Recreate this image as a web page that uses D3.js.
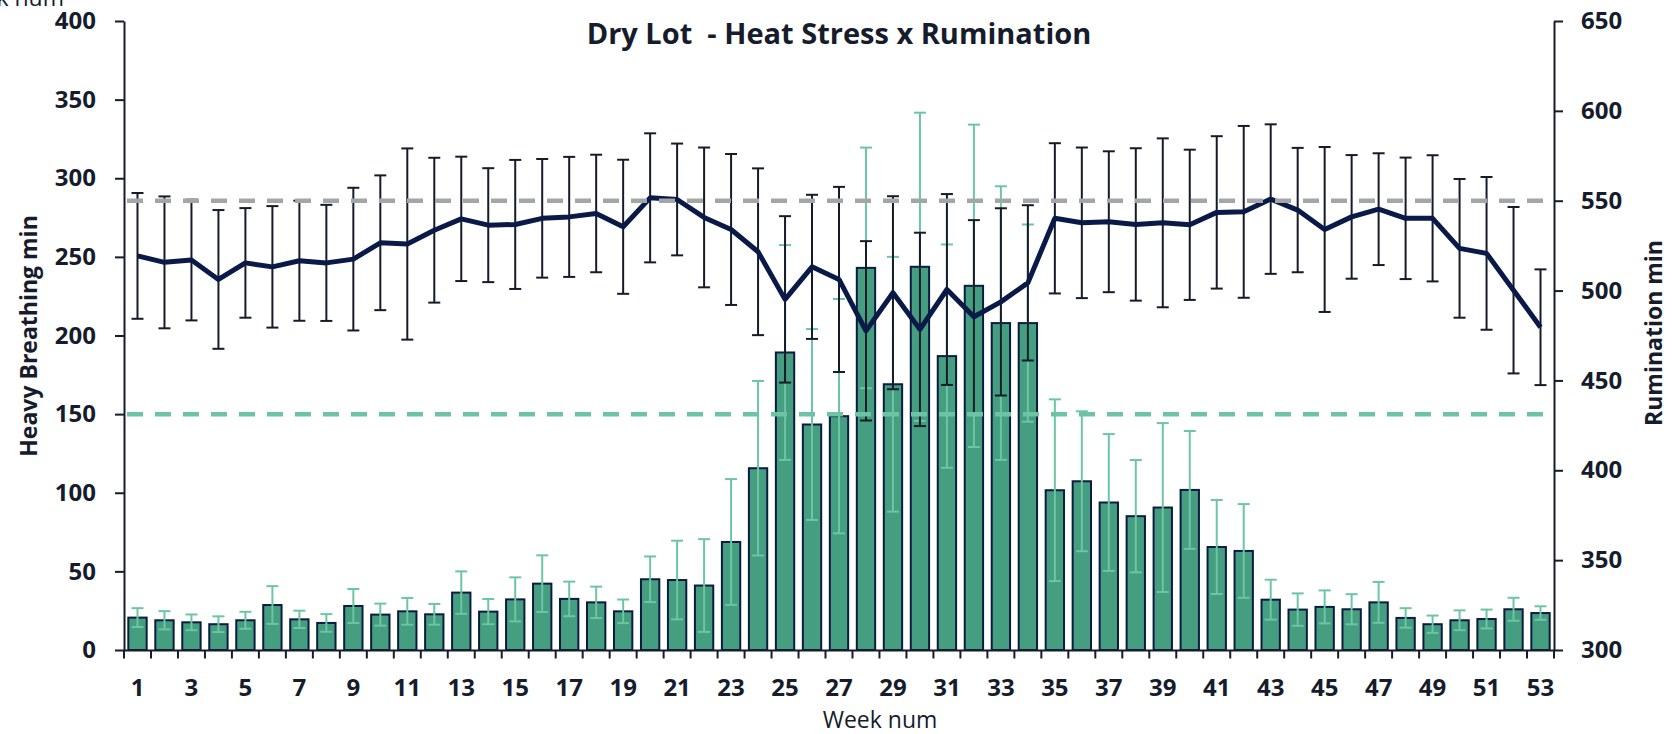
<!DOCTYPE html>
<html>
<head>
<meta charset="utf-8">
<script src="https://cdn.jsdelivr.net/npm/d3@7"></script>
<style>
  body { margin: 0; background: #fff; }
  text { font-family: "Open Sans", Lato, sans-serif; fill: #161c2c; }
</style>
</head>
<body>
<script>
// chart data
var weeks = [1,2,3,4,5,6,7,8,9,10,11,12,13,14,15,16,17,18,19,20,21,22,23,24,25,26,27,
  28,29,30,31,32,33,34,35,36,37,38,39,40,41,42,43,44,45,46,47,48,49,50,51,52,53];
var weekLabels = [1,3,5,7,9,11,13,15,17,19,21,23,25,27,29,31,33,35,37,39,41,43,45,47,49,51,53];

var heavyBreathing = [20.6,18.9,17.6,16.4,18.9,28.6,19.5,17.2,28.0,22.5,
  24.6,22.7,36.5,24.4,32.2,42.2,32.5,30.3,24.6,45.0,
  44.5,41.0,68.7,115.6,189.2,143.4,148.7,243.0,169.0,243.7,
  186.9,231.6,207.9,207.9,101.6,107.3,93.8,85.1,90.6,101.8,
  65.5,63.0,32.0,25.7,27.4,25.9,30.3,20.4,16.4,18.9,
  19.7,25.9,23.5];
var heavyBreathingSd = [6.0,5.8,5.0,5.0,5.4,12.0,5.5,5.6,10.8,7.0,
  8.5,6.6,13.5,8.0,14.0,18.0,11.0,10.0,7.5,14.5,
  25.0,29.5,40.0,55.5,68.3,60.7,74.5,76.5,81.0,98.0,
  71.0,102.5,87.0,62.7,57.8,44.5,43.5,35.7,53.7,37.5,
  29.9,29.8,12.7,10.3,10.5,9.6,13.0,6.2,5.5,6.3,
  6.0,7.3,4.3];

var rumination = [519.3,515.7,517.0,506.2,515.4,513.2,516.6,515.4,517.5,526.6,
  525.9,533.6,539.9,536.4,536.8,540.2,541.0,542.9,535.5,551.6,
  550.7,540.7,534.0,521.6,495.1,513.2,506.2,477.6,498.8,478.4,
  500.6,485.4,493.7,504.3,540.2,537.7,538.3,536.8,537.7,536.6,
  543.5,543.8,550.9,544.8,534.0,541.0,545.3,540.2,540.2,523.5,
  520.7,500.2,479.6];
var ruminationSd = [35.0,36.7,33.6,38.6,30.5,33.8,33.4,32.3,39.7,37.5,
  53.2,40.3,34.6,31.7,35.9,33.0,33.4,32.7,37.3,35.9,
  31.1,38.9,42.0,46.4,46.3,40.1,51.5,49.9,53.7,53.8,
  53.1,53.8,52.1,43.2,41.8,41.9,39.2,42.4,47.0,41.8,
  42.4,47.8,41.6,34.6,45.9,34.4,31.1,33.8,35.1,38.6,
  42.5,46.3,32.2];

var leftTicks = [0,50,100,150,200,250,300,350,400];
var rightTicks = [300,350,400,450,500,550,600,650];
var breathingLimit = 150;
var ruminationLimit = 550;

// dimensions
var width = 1672, height = 734;
var plotLeft = 124, plotRight = 1554, plotTop = 21, plotBottom = 650;

var data = weeks.map(function(w, i) {
  return { week: w, hb: heavyBreathing[i], hbSd: heavyBreathingSd[i],
           rum: rumination[i], rumSd: ruminationSd[i] };
});

var svg = d3.select("body")
  .append("svg")
    .attr("width", width)
    .attr("height", height);

// scales
var x = d3.scaleBand()
  .domain(weeks)
  .range([plotLeft, plotRight])
  .paddingInner(0.32)
  .paddingOuter(0.16);
var yL = d3.scaleLinear().domain([0, 400]).range([plotBottom, plotTop]);
var yR = d3.scaleLinear().domain([300, 650]).range([plotBottom, plotTop]);
var cx = function(d) { return x(d) + x.bandwidth() / 2; };

// bars
svg.selectAll("rect.bar")
  .data(data)
  .enter()
  .append("rect")
    .attr("class", "bar")
    .attr("x", function(d) { return x(d.week); })
    .attr("y", function(d) { return yL(d.hb); })
    .attr("width", x.bandwidth())
    .attr("height", function(d) { return yL(0) - yL(d.hb); })
    .attr("fill", "#449e7f")
    .attr("stroke", "#0c1c40")
    .attr("stroke-width", 2);

// error bars helper
function errorBars(cls, scale, valKey, sdKey, color, capW) {
  var g = svg.append("g").attr("class", cls)
    .attr("stroke", color).attr("stroke-width", 2).attr("fill", "none");
  var e = g.selectAll("g").data(data).enter().append("g");
  e.append("line")
    .attr("x1", function(d) { return cx(d.week); })
    .attr("x2", function(d) { return cx(d.week); })
    .attr("y1", function(d) { return scale(d[valKey] - d[sdKey]); })
    .attr("y2", function(d) { return scale(d[valKey] + d[sdKey]); });
  [-1, 1].forEach(function(s) {
    e.append("line")
      .attr("x1", function(d) { return cx(d.week) - capW / 2; })
      .attr("x2", function(d) { return cx(d.week) + capW / 2; })
      .attr("y1", function(d) { return scale(d[valKey] + s * d[sdKey]); })
      .attr("y2", function(d) { return scale(d[valKey] + s * d[sdKey]); });
  });
}
errorBars("hb-err", yL, "hb", "hbSd", "#6cc5a4", 12);
errorBars("rum-err", yR, "rum", "rumSd", "#151b29", 12);

// rumination line
svg.append("path")
  .datum(data)
  .attr("fill", "none")
  .attr("stroke", "#0a1a48")
  .attr("stroke-width", 5)
  .attr("stroke-linejoin", "round")
  .attr("d", d3.line()
    .x(function(d) { return cx(d.week); })
    .y(function(d) { return yR(d.rum); }));

// threshold lines
svg.append("line")
  .attr("x1", plotLeft + 3).attr("x2", plotRight - 8)
  .attr("y1", yR(ruminationLimit)).attr("y2", yR(ruminationLimit))
  .attr("stroke", "#a3a6a6").attr("stroke-width", 4.5)
  .attr("stroke-dasharray", "16,12");
svg.append("line")
  .attr("x1", plotLeft + 3).attr("x2", plotRight - 8)
  .attr("y1", yL(breathingLimit)).attr("y2", yL(breathingLimit))
  .attr("stroke", "#6cc4a4").attr("stroke-width", 4.5)
  .attr("stroke-dasharray", "16,12");

// axes
var axisColor = "#161c2c";
var leftAxis = svg.append("g")
  .attr("transform", "translate(" + plotLeft + ",0)")
  .call(d3.axisLeft(yL).tickValues(leftTicks).tickSize(9).tickPadding(19).tickSizeOuter(0));
var rightAxis = svg.append("g")
  .attr("transform", "translate(" + plotRight + ",0)")
  .call(d3.axisRight(yR).tickValues(rightTicks).tickSize(9).tickPadding(18).tickSizeOuter(0));
var bottomAxis = svg.append("g")
  .attr("transform", "translate(0," + plotBottom + ")")
  .call(d3.axisBottom(x).tickValues(weekLabels).tickSize(0).tickPadding(29).tickSizeOuter(0));

// category boundary ticks
svg.append("g")
  .selectAll("line")
  .data(weeks.concat([null]))
  .enter()
  .append("line")
    .attr("x1", function(d) { return d === null ? plotRight : cx(d) - x.step() / 2; })
    .attr("x2", function(d) { return d === null ? plotRight : cx(d) - x.step() / 2; })
    .attr("y1", plotBottom)
    .attr("y2", plotBottom + 8.5)
    .attr("stroke", axisColor)
    .attr("stroke-width", 2);

[leftAxis, rightAxis, bottomAxis].forEach(function(a) {
  a.selectAll("path").attr("stroke", axisColor).attr("stroke-width", 2);
  a.selectAll("line").attr("stroke", axisColor).attr("stroke-width", 2);
  a.selectAll("text")
    .style("font-family", "'Open Sans', sans-serif")
    .style("font-size", "24px")
    .style("font-weight", "bold")
    .attr("fill", axisColor);
});

// titles
svg.append("text")
  .attr("x", 839).attr("y", 44)
  .attr("text-anchor", "middle")
  .style("white-space", "pre")
  .style("font-size", "29px")
  .style("font-weight", "bold")
  .text("Dry Lot  - Heat Stress x Rumination");

svg.append("text")
  .attr("x", 880).attr("y", 728)
  .attr("text-anchor", "middle")
  .style("font-size", "23px")
  .text("Week num");

// clipped leftover label in the corner
svg.append("text")
  .attr("x", 64).attr("y", 6)
  .attr("text-anchor", "end")
  .style("font-size", "23px")
  .text("Week num");

svg.append("text")
  .attr("transform", "translate(37,336)rotate(-90)")
  .attr("text-anchor", "middle")
  .style("font-size", "23px")
  .style("font-weight", "bold")
  .text("Heavy Breathing min");

svg.append("text")
  .attr("transform", "translate(1662,333)rotate(-90)")
  .attr("text-anchor", "middle")
  .style("font-size", "23px")
  .style("font-weight", "bold")
  .text("Rumination min");
</script>
</body>
</html>
